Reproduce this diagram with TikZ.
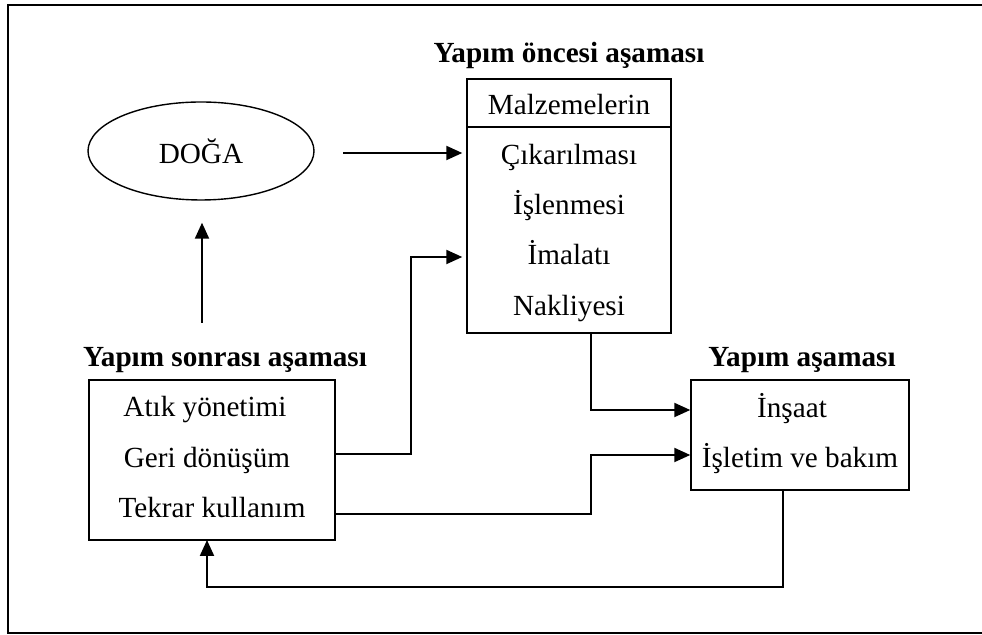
\documentclass[tikz,border=0pt]{standalone}
\usepackage{fontspec}
\setmainfont{Liberation Serif}
\usetikzlibrary{arrows.meta,calc,shapes.geometric}

\tikzset{
  txt/.style={inner sep=0pt, anchor=base, font=\fontsize{14.6}{17}\selectfont},
  ttl/.style={inner sep=0pt, anchor=base, font=\fontsize{14.6}{17}\selectfont\bfseries},
  stagebox/.style={draw, line width=0.7pt, inner sep=0pt},
  flow/.style={line width=1pt, -{Triangle[length=8pt,width=7pt]}},
  link/.style={line width=1pt},
}

\begin{document}
\begin{tikzpicture}[x=0.5pt, y=-0.5pt]
  \useasboundingbox (0,0) rectangle (982,635);
  % outer frame
  \draw[line width=1pt] (1000,5) -- (8,5) -- (8,633) -- (1000,633);

  % nature
  \node[ellipse, draw, line width=0.7pt, minimum width=113pt, minimum height=49pt,
        inner sep=0pt, font=\fontsize{14.6}{17}\selectfont] (doga) at (201,151) {DOĞA};

  % pre-construction stage
  \node[ttl] (preT) at (569,63) {Yapım öncesi aşaması};
  \node[stagebox, minimum width=102pt, minimum height=127pt] (pre) at (569,206) {};
  \draw[line width=0.7pt] (467,127) -- (671,127);
  \node[txt] (mal) at (569,115) {Malzemelerin};
  \node[txt] (cik) at (569,165) {Çıkarılması};
  \node[txt] (isl) at (569,215) {İşlenmesi};
  \node[txt] (ima) at (569,265) {İmalatı};
  \node[txt] (nak) at (569,316) {Nakliyesi};

  % post-construction stage
  \node[ttl] (postT) at (225,367) {Yapım sonrası aşaması};
  \node[stagebox, minimum width=123pt, minimum height=80pt] (post) at (212,460) {};
  \node[txt] (atik) at (205,417) {Atık yönetimi};
  \node[txt] (geri) at (207,468) {Geri dönüşüm};
  \node[txt] (tek)  at (212,518) {Tekrar kullanım};

  % construction stage
  \node[ttl] (conT) at (802,367) {Yapım aşaması};
  \node[stagebox, minimum width=109pt, minimum height=55pt] (con) at (800,435) {};
  \node[txt] (ins) at (792,418) {İnşaat};
  \node[txt] (ise) at (800,468) {İşletim ve bakım};

  % routing points
  \coordinate (natStart) at (343,153);
  \coordinate (recStart) at (202,323);
  \coordinate (preOut) at (591,333);
  \coordinate (conOut) at (783,490);
  \coordinate (postIn) at (207,540);

  % nature -> extraction
  \draw[flow, shorten >=2pt] (natStart) -- (natStart -| pre.west);
  % recycling back to nature
  \draw[flow] (recStart) -- ($(doga.south)+(1,22)$);
  % transport -> construction
  \draw[flow] (preOut) |- (con.west |- 0,410);
  % recycling -> manufacturing
  \draw[flow, shorten >=2pt] (post.east |- 0,454) -- (411,454) |- (pre.west |- 0,257);
  % reuse -> operation
  \draw[flow] (post.east |- 0,514) -- (591,514) |- (con.west |- 0,455);
  % operation back to waste management
  \draw[flow] (conOut) |- (207,587) -- (postIn);
\end{tikzpicture}
\end{document}
